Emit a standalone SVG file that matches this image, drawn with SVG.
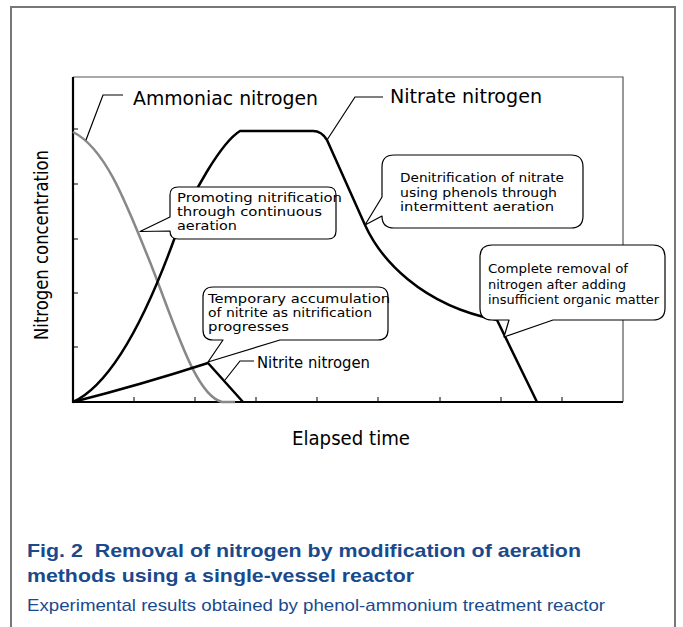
<svg xmlns="http://www.w3.org/2000/svg" width="683" height="627" viewBox="0 0 683 627">
<style>
.lbl{font-family:"DejaVu Sans","Noto Sans",sans-serif;fill:#000}
.call{font-family:"DejaVu Sans","Noto Sans",sans-serif;font-size:13px;fill:#000}
.box{fill:#fff;stroke:#000;stroke-width:1.2;stroke-linejoin:round}
.lead{fill:none;stroke:#000;stroke-width:1.2}
.cap{font-family:"Liberation Sans",Arial,sans-serif;fill:#1a4a8c}
.tick{stroke:#000;stroke-width:1}
</style>
<rect width="683" height="627" fill="#fff"/>
<path d="M11,630 V7 H675 V630" fill="none" stroke="#777" stroke-width="2"/>
<g id="plot-frame">
<path d="M73,77 H623 V402" fill="none" stroke="#555" stroke-width="1.2"/>
<path d="M73,77 V402 H623" fill="none" stroke="#000" stroke-width="2.2"/>
<g class="tick">
<path d="M134,402 V397 M195,402 V397 M256,402 V397 M317,402 V397 M378,402 V397 M440,402 V397 M501,402 V397 M562,402 V397"/>
<path d="M73,129 H78 M73,184 H78 M73,239 H78 M73,293 H78 M73,347 H78"/>
</g>
</g>
<g id="connectors">
<path id="ammonia-curve" d="M73,132 C105,148 125,200 150,262 C175,325 195,395 222,402 H235" fill="none" stroke="#888" stroke-width="2.5"/>
<path id="nitrate-curve" d="M73,402 C110,385 145,320 175,237 C192,192 222,142 240,131 H313 C320,131 324,135 327,140 L365,225 C380,258 420,305 497,320 L537,402" fill="none" stroke="#000" stroke-width="2.5" stroke-linejoin="round"/>
<path id="nitrite-curve" d="M73,402 Q140,385 208,363 L243,402" fill="none" stroke="#000" stroke-width="2.5" stroke-linejoin="round"/>
<path class="lead" d="M123,95 H103 L86,140"/>
<path class="lead" d="M383,97 H355 L327,140"/>
<path class="lead" d="M254,361 H240 L225,380"/>
</g>
<g id="label-ammonia"><text class="lbl" x="133" y="105" font-size="20" textLength="185" lengthAdjust="spacingAndGlyphs">Ammoniac nitrogen</text></g>
<g id="label-nitrate"><text class="lbl" x="390" y="103" font-size="20" textLength="152" lengthAdjust="spacingAndGlyphs">Nitrate nitrogen</text></g>
<g id="label-nitrite"><text class="lbl" x="257" y="368" font-size="16" textLength="113" lengthAdjust="spacingAndGlyphs">Nitrite nitrogen</text></g>
<g id="callout-nitrification">
<path class="box" d="M178,187 H328 Q336,187 336,195 V231 Q336,239 328,239 H178 Q170,239 170,231 L140,231.5 L170,217 V195 Q170,187 178,187 Z"/>
<text class="call" x="177" y="202" textLength="165" lengthAdjust="spacingAndGlyphs">Promoting nitrification</text>
<text class="call" x="177" y="216" textLength="145" lengthAdjust="spacingAndGlyphs">through continuous</text>
<text class="call" x="177" y="230" textLength="60" lengthAdjust="spacingAndGlyphs">aeration</text>
</g>
<g id="callout-denitrification">
<path class="box" d="M394,155 H571 Q583,155 583,167 V216 Q583,228 571,228 H394 Q382,228 382,216 L365,225 L382,197 V167 Q382,155 394,155 Z"/>
<text class="call" x="400" y="182" textLength="164" lengthAdjust="spacingAndGlyphs">Denitrification of nitrate</text>
<text class="call" x="400" y="196.5" textLength="157" lengthAdjust="spacingAndGlyphs">using phenols through</text>
<text class="call" x="400" y="211" textLength="154" lengthAdjust="spacingAndGlyphs">intermittent aeration</text>
</g>
<g id="callout-nitrite">
<path class="box" d="M213,287 H378 Q388,287 388,297 V330 Q388,340 378,340 H280 L208,362 L223,340 H213 Q203,340 203,330 V297 Q203,287 213,287 Z"/>
<text class="call" x="208" y="303" textLength="182" lengthAdjust="spacingAndGlyphs">Temporary accumulation</text>
<text class="call" x="208" y="317" textLength="164" lengthAdjust="spacingAndGlyphs">of nitrite as nitrification</text>
<text class="call" x="208" y="331" textLength="81" lengthAdjust="spacingAndGlyphs">progresses</text>
</g>
<g id="callout-removal">
<path class="box" d="M492,245 H653 Q665,245 665,257 V308 Q665,320 653,320 H553 L504,337 L509,320 H492 Q480,320 480,308 V257 Q480,245 492,245 Z"/>
<text class="call" x="488" y="273" textLength="140" lengthAdjust="spacingAndGlyphs">Complete removal of</text>
<text class="call" x="488" y="289" textLength="138" lengthAdjust="spacingAndGlyphs">nitrogen after adding</text>
<text class="call" x="488" y="304" textLength="171" lengthAdjust="spacingAndGlyphs">insufficient organic matter</text>
</g>
<g id="axis-labels">
<text class="lbl" x="351" y="445" font-size="19" text-anchor="middle" textLength="118" lengthAdjust="spacingAndGlyphs">Elapsed time</text>
<text class="lbl" x="48" y="245" font-size="19" text-anchor="middle" transform="rotate(-90 48 245)" textLength="190" lengthAdjust="spacingAndGlyphs">Nitrogen concentration</text>
</g>
<g id="caption">
<text class="cap" x="27" y="557" font-size="19" font-weight="bold" xml:space="preserve" textLength="554" lengthAdjust="spacingAndGlyphs">Fig. 2  Removal of nitrogen by modification of aeration</text>
<text class="cap" x="27" y="582" font-size="19" font-weight="bold" textLength="387" lengthAdjust="spacingAndGlyphs">methods using a single-vessel reactor</text>
<text class="cap" x="27" y="611" font-size="17" textLength="578" lengthAdjust="spacingAndGlyphs">Experimental results obtained by phenol-ammonium treatment reactor</text>
</g>
</svg>
